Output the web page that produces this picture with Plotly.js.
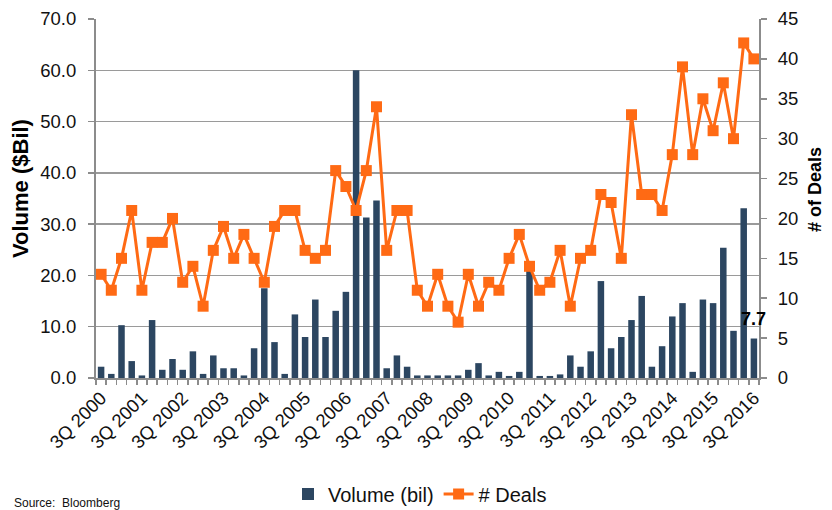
<!DOCTYPE html>
<html>
<head>
<meta charset="utf-8">
<script src="https://cdn.plot.ly/plotly-3.0.1.min.js"></script>
<style>
  body { margin: 0; background: #fff; }
  #chart { width: 832px; height: 510px; }
</style>
</head>
<body>
<div id="chart"></div>
<script>
// Quarters 3Q 2000 .. 3Q 2016
const quarters = [];
for (let y = 2000; y <= 2016; y++) {
    for (let q = 1; q <= 4; q++) {
        if ((y === 2000 && q < 3) || (y === 2016 && q > 3)) continue;
        quarters.push(q + 'Q ' + y);
    }
}

// Volume in $ billions
const volume = [2.2, 0.8, 10.3, 3.3, 0.5, 11.3, 1.6, 3.7, 1.6, 5.2,
    0.8, 4.4, 1.9, 1.9, 0.5, 5.8, 17.5, 7.0, 0.8, 12.4,
    8.0, 15.3, 8.0, 13.1, 16.8, 60.0, 31.3, 34.6, 1.9, 4.4,
    2.2, 0.5, 0.5, 0.5, 0.5, 0.5, 1.6, 2.9, 0.5, 1.2,
    0.4, 1.2, 21.2, 0.4, 0.4, 0.7, 4.4, 2.2, 5.2, 18.9,
    5.8, 8.0, 11.3, 16.0, 2.2, 6.2, 12.0, 14.6, 1.2, 15.3,
    14.6, 25.4, 9.2, 33.1, 7.7];

// Number of deals
const deals = [13, 11, 15, 21, 11, 17, 17, 20, 12, 14,
    9, 16, 19, 15, 18, 15, 12, 19, 21, 21,
    16, 15, 16, 26, 24, 21, 26, 34, 16, 21,
    21, 11, 9, 13, 9, 7, 13, 9, 12, 11,
    15, 18, 14, 11, 12, 16, 9, 15, 16, 23,
    22, 15, 33, 23, 23, 21, 28, 39, 28, 35,
    31, 37, 30, 42, 40];

const leftTicks = [0, 10, 20, 30, 40, 50, 60, 70];
const rightTicks = [0, 5, 10, 15, 20, 25, 30, 35, 40, 45];

// numeric x so the small ticks can sit between quarters
const xIdx = quarters.map((q, i) => i);
const labelIdx = xIdx.filter(i => i % 4 === 0);
const labelText = labelIdx.map(i => quarters[i]);

const navy = '#2C4661';
const orange = '#FF6A14';
const axisGray = '#8C8C8C';
const font = 'Liberation Sans, Arial, sans-serif';

// plot box in pixels (used to place the notes outside the axes)
const W = 832, H = 510;
const M = { l: 96, r: 73, t: 19, b: 132, autoexpand: false };
const px = x => (x - M.l) / (W - M.l - M.r);
const py = y => (H - M.b - y) / (H - M.t - M.b);

const traceVolume = {
    x: xIdx,
    y: volume,
    type: 'bar',
    name: 'Volume (bil)',
    marker: { color: navy },
    hovertext: quarters
};

const traceDeals = {
    x: xIdx,
    y: deals,
    type: 'scatter',
    mode: 'lines+markers',
    name: '# Deals',
    yaxis: 'y2',
    line: { color: orange, width: 3 },
    marker: { symbol: 'square', size: 11, color: orange },
    hovertext: quarters
};

const last = volume.length - 1;

const layout = {
    width: W,
    height: H,
    margin: M,
    paper_bgcolor: '#fff',
    plot_bgcolor: '#fff',
    font: { family: font, size: 16, color: '#111' },
    bargap: 0.36,
    showlegend: true,
    legend: {
        orientation: 'h',
        x: px(420), xanchor: 'center',
        y: py(494), yanchor: 'middle',
        font: { family: font, size: 20, color: '#111' }
    },
    xaxis: {
        range: [-0.5, quarters.length - 0.5],
        tickvals: labelIdx,
        ticktext: labelText,
        tickangle: -45,
        ticks: '',
        automargin: false,
        showgrid: false,
        zeroline: false,
        showline: true,
        linecolor: axisGray,
        linewidth: 2,
        tickfont: { size: 18.5 },
        minor: {
            tick0: -0.5,
            dtick: 1,
            ticks: 'outside',
            ticklen: 5,
            tickcolor: axisGray,
            tickwidth: 1.5,
            showgrid: false
        }
    },
    yaxis: {
        range: [0, 70],
        tickvals: leftTicks,
        ticktext: leftTicks.map(v => v.toFixed(1)),
        ticks: 'outside',
        ticklen: 6,
        tickcolor: axisGray,
        tickwidth: 1.5,
        ticklabelstandoff: 8,
        automargin: false,
        showgrid: true,
        gridcolor: '#9A9A9A',
        gridwidth: 1.5,
        zeroline: false,
        showline: true,
        linecolor: axisGray,
        linewidth: 2,
        tickfont: { size: 18.5 }
    },
    yaxis2: {
        overlaying: 'y',
        side: 'right',
        range: [0, 45],
        tickvals: rightTicks,
        ticks: 'outside',
        ticklen: 6,
        tickcolor: axisGray,
        tickwidth: 1.5,
        ticklabelstandoff: 7,
        automargin: false,
        showgrid: false,
        zeroline: false,
        showline: true,
        linecolor: axisGray,
        linewidth: 2,
        tickfont: { size: 18.5 }
    },
    annotations: [
        {
            x: last, y: volume[last], xref: 'x', yref: 'y',
            text: '<b>' + volume[last].toFixed(1) + '</b>',
            showarrow: false, yshift: 20,
            font: { size: 18, color: '#000' }
        },
        {
            x: px(21), y: py(189), xref: 'paper', yref: 'paper',
            text: '<b>Volume ($Bil)</b>', textangle: -90,
            showarrow: false, xanchor: 'center', yanchor: 'middle',
            font: { size: 22, color: '#000' }
        },
        {
            x: px(815), y: py(190), xref: 'paper', yref: 'paper',
            text: '<b># of Deals</b>', textangle: -90,
            showarrow: false, xanchor: 'center', yanchor: 'middle',
            font: { size: 18, color: '#000' }
        },
        {
            x: px(12), y: py(503), xref: 'paper', yref: 'paper',
            text: 'Source:  Bloomberg',
            showarrow: false, xanchor: 'left', yanchor: 'middle',
            font: { size: 12, color: '#111' }
        }
    ]
};

Plotly.newPlot('chart', [traceVolume, traceDeals], layout, { displayModeBar: false, staticPlot: true });
</script>
</body>
</html>
